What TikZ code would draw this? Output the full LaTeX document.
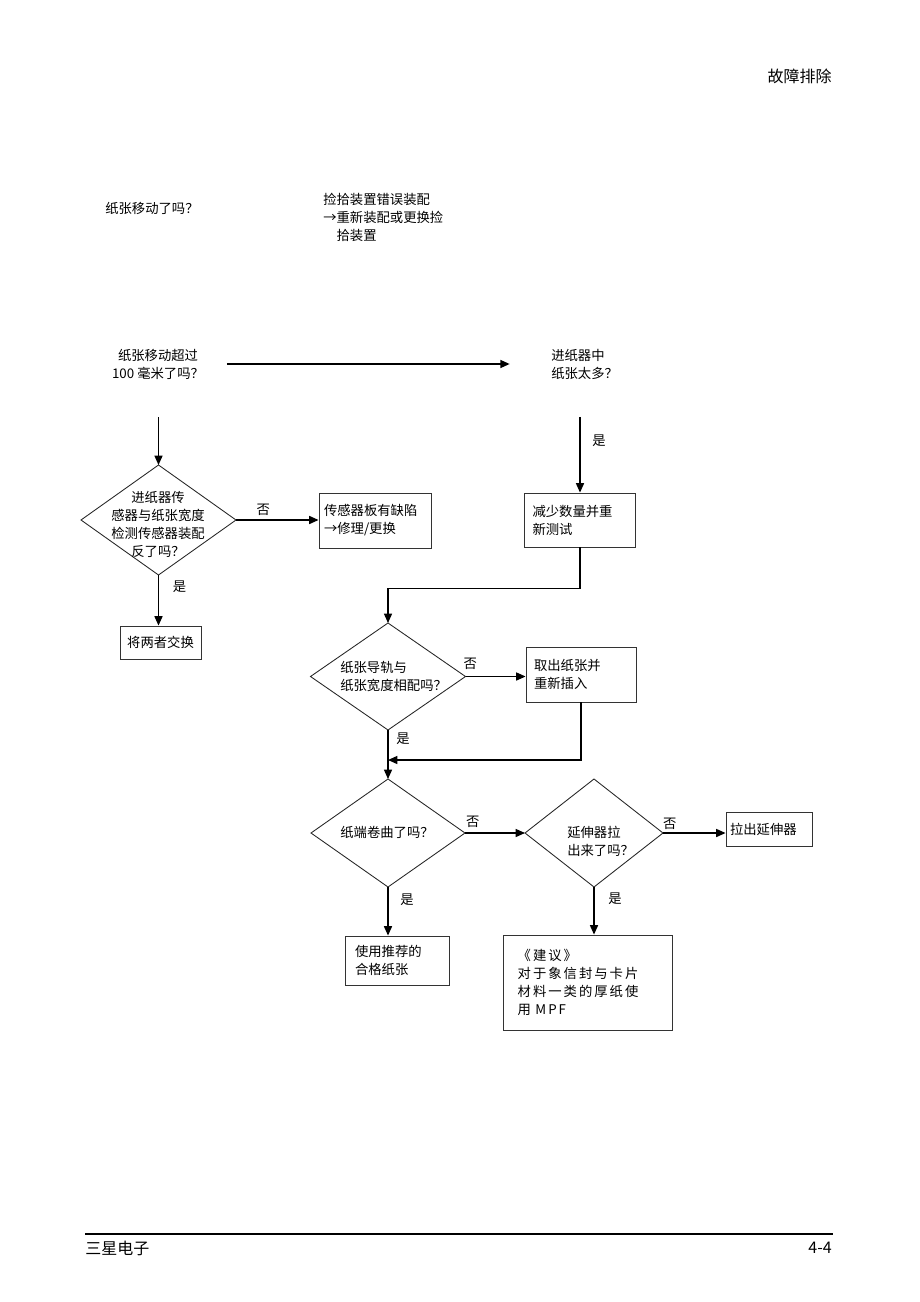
\documentclass[tikz,border=0pt]{standalone}
\usepackage{fontspec}
\setmainfont{Noto Sans CJK SC}
\newfontfamily\widecjk[LetterSpace=15]{Noto Sans CJK SC}
\usetikzlibrary{shapes.geometric,arrows.meta}

\tikzset{
  txt/.style={font=\fontsize{10}{13.5}\selectfont, inner sep=0pt},
  box/.style={txt, draw=black!80, line width=0.65pt, rectangle, align=left},
  dia/.style={draw=black!85, line width=0.65pt, diamond, inner sep=0pt, outer sep=0pt},
  arr/.style={line width=1pt, -{Triangle[length=7pt,width=6pt]}},
  ans/.style={txt, anchor=center},
}

\begin{document}
\begin{tikzpicture}[x=0.75pt,y=-0.75pt]
\useasboundingbox (0,0) rectangle (920,1302);

% Header and footer
\node[font=\fontsize{12}{14}\selectfont, anchor=east, inner sep=0pt] (title) at (832,76) {故障排除};
\draw[line width=1.1pt] (85,1234) -- (833,1234);
\node[font=\fontsize{12}{14}\selectfont, anchor=west, inner sep=0pt] (maker) at (85,1248) {三星电子};
\node[font=\fontsize{12}{14}\selectfont, anchor=east, inner sep=0pt] (pageno) at (832,1248) {4-4};

% Free questions on top
\node[txt, anchor=west] (q0) at (105,208) {纸张移动了吗？};
\node[txt, anchor=west, align=left] (pick) at (323,217) {捡拾装置错误装配\\→重新装配或更换捡\\\phantom{→}拾装置};
\node[txt, align=center] (q1) at (158,364) {纸张移动超过\\100 毫米了吗？};
\node[txt, anchor=west, align=left] (q2) at (551,364) {进纸器中\\纸张太多？};

% Diamonds, text set on top of them
\node[dia, minimum width=116.25pt, minimum height=82.5pt] (d1) at (158.5,520) {};
\node[txt, align=center] (d1t) at (158,524) {进纸器传\\感器与纸张宽度\\检测传感器装配\\反了吗？};
\node[dia, minimum width=116.25pt, minimum height=80.25pt] (d2) at (388,676.5) {};
\node[txt, anchor=west, align=left] (d2t) at (340,677) {纸张导轨与\\纸张宽度相配吗？};
\node[dia, minimum width=115.5pt, minimum height=81pt] (d3) at (388,833) {};
\node[txt] (d3t) at (387,832) {纸端卷曲了吗？};
\node[dia, minimum width=103.5pt, minimum height=81pt] (d4) at (594,833) {};
\node[txt, anchor=west, align=left] (d4t) at (567,841) {延伸器拉\\出来了吗？};

% Boxes
\node[box, minimum width=84pt, minimum height=41.25pt, text width=76.5pt] (sens) at (375,520.5) {传感器板有缺陷\\→修理/更换};
\node[box, align=center, minimum width=60.75pt, minimum height=24.75pt] (swap) at (160.5,642.5) {将两者交换};
\node[box, minimum width=83.25pt, minimum height=40.5pt, text width=71.25pt] (reduce) at (580,520) {减少数量并重\\新测试};
\node[box, minimum width=82.5pt, minimum height=41.25pt, text width=70.5pt] (reinsert) at (581,674.5) {取出纸张并\\重新插入};
\node[box, minimum width=64.5pt, minimum height=25.5pt, text width=58.5pt] (pull) at (769,829) {拉出延伸器};
\node[box, minimum width=78pt, minimum height=36.75pt, text width=63pt] (paper) at (397,960.5) {使用推荐的\\合格纸张};
\node[box, minimum width=126.75pt, minimum height=71.25pt, text width=104.75pt] (advice) at (587.5,982.5) {\widecjk 《建议》\\对于象信封与卡片\\材料一类的厚纸使\\用 MPF};

% Top row connectors
\draw[arr, shorten <=17pt, shorten >=31pt] (q1.east) -- (q2.west);
\draw[arr, shorten <=28.5pt] (d1.north |- q1.south) -- (d1.north);
\draw[arr, shorten <=28pt] (q2.south -| reduce.north) -- node[ans, pos=.54, xshift=14.25pt] (yes0) {是} (reduce.north);

% Left branch
\draw[arr] (d1.east) -- node[ans, pos=.33, yshift=7.5pt] (no1) {否} (d1.east -| sens.west);
\draw[arr] (d1.south) -- node[ans, pos=.24, xshift=15.75pt] (yes1) {是} (d1.south |- swap.north);

% Middle branch
\draw[arr] (reduce.south) -- +(0,41) -| (d2.north);
\draw[arr] (d2.east) -- node[ans, pos=.08, yshift=9.75pt] (no2) {否} (d2.east -| reinsert.west);
\coordinate (join) at (388,760);
\draw[arr] (reinsert.south) |- (join);
\draw[arr] (d2.south) -- node[ans, pos=.18, xshift=11.25pt] (yes2) {是} (d3.north);

% Bottom branch
\draw[arr] (d3.east) -- node[ans, pos=.13, yshift=8.25pt] (no3) {否} (d4.west);
\draw[arr] (d4.east) -- node[ans, pos=.11, yshift=7pt] (no4) {否} (d4.east -| pull.west);
\draw[arr] (d3.south) -- node[ans, pos=.27, xshift=14.25pt] (yes3) {是} (d3.south |- paper.north);
\draw[arr] (d4.south) -- node[ans, pos=.25, xshift=15.75pt] (yes4) {是} (d4.south |- advice.north);
\end{tikzpicture}
\end{document}
